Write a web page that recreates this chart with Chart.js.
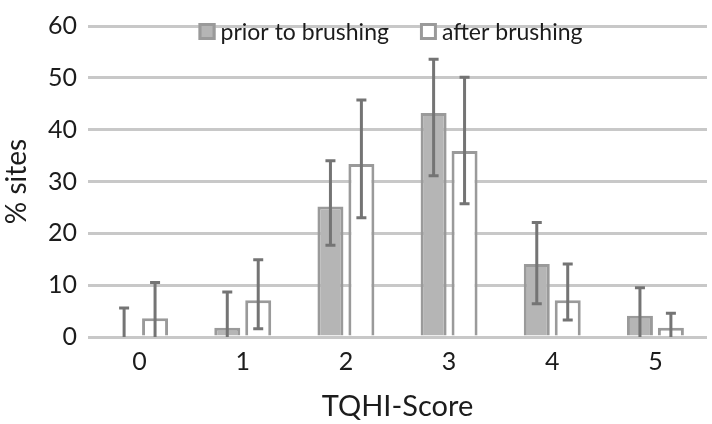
<!DOCTYPE html>
<html>
<head>
<meta charset="utf-8">
<script src="https://cdn.jsdelivr.net/npm/chart.js@4/dist/chart.umd.min.js"></script>
<style>
html,body{margin:0;padding:0;background:#fff;}
#wrap{width:712px;height:424px;position:relative;}
</style>
</head>
<body>
<div id="wrap"><canvas id="c" width="712" height="424"></canvas></div>
<script>
const categories = ['0', '1', '2', '3', '4', '5'];
const seriesNames = ['prior to brushing', 'after brushing'];
const priorValues = [0, 1.8, 25.2, 43.2, 14.1, 4.1];
const priorLower  = [0, 0, 17.7, 31.1, 6.4, 0];
const priorUpper  = [5.6, 8.7, 34.0, 53.6, 22.1, 9.5];
const afterValues = [3.6, 7.1, 33.4, 35.9, 7.1, 1.8];
const afterLower  = [0, 1.6, 23.0, 25.7, 3.3, 0];
const afterUpper  = [10.5, 14.9, 45.7, 50.1, 14.1, 4.6];
const yTicks = [0, 10, 20, 30, 40, 50, 60];

const FONT = 'Lato, "Open Sans", sans-serif';
const TEXT = '#1c1c1c';

const errorBars = {
  id: 'errorBars',
  afterDatasetsDraw(chart) {
    const ctx = chart.ctx;
    const ys = chart.scales.y;
    const bounds = [[priorLower, priorUpper], [afterLower, afterUpper]];
    ctx.save();
    ctx.strokeStyle = '#747474';
    ctx.lineWidth = 3;
    chart.data.datasets.forEach((ds, i) => {
      const meta = chart.getDatasetMeta(i);
      meta.data.forEach((bar, j) => {
        const x = bar.x;
        const yT = ys.getPixelForValue(bounds[i][1][j]);
        const yB = ys.getPixelForValue(bounds[i][0][j]);
        ctx.beginPath();
        ctx.moveTo(x, yT); ctx.lineTo(x, yB);
        ctx.moveTo(x - 5, yT); ctx.lineTo(x + 5, yT);
        if (bounds[i][0][j] > 0) { ctx.moveTo(x - 5, yB); ctx.lineTo(x + 5, yB); }
        ctx.stroke();
      });
    });
    ctx.restore();
  }
};

const legendPlugin = {
  id: 'customLegend',
  afterDraw(chart) {
    const ctx = chart.ctx;
    const ca = chart.chartArea;
    ctx.save();
    ctx.font = '23px ' + FONT;
    ctx.textBaseline = 'middle';
    ctx.fillStyle = TEXT;
    const cy = 31.5;
    const box = 17;
    const items = chart.data.datasets.map(d => ({label: d.label, fill: d.backgroundColor, stroke: d.borderColor}));
    const gap = 5, spacing = 31;
    let total = 0;
    items.forEach((it, k) => { total += box + gap + ctx.measureText(it.label).width + (k < items.length - 1 ? spacing : 0); });
    let x = (ca.left + ca.right) / 2 - 7 - total / 2;
    items.forEach(it => {
      ctx.fillStyle = it.fill;
      ctx.fillRect(x, cy - box / 2, box, box);
      ctx.strokeStyle = it.stroke;
      ctx.lineWidth = 3;
      ctx.strokeRect(x + 1.5, cy - box / 2 + 1.5, box - 3, box - 3);
      ctx.fillStyle = TEXT;
      ctx.fillText(it.label, x + box + gap, cy + 1);
      x += box + gap + ctx.measureText(it.label).width + spacing;
    });
    ctx.restore();
  }
};

new Chart(document.getElementById('c'), {
  type: 'bar',
  data: {
    labels: categories,
    datasets: [
      { label: seriesNames[0], data: priorValues, backgroundColor: '#b5b5b5', borderColor: '#9a9a9a', borderWidth: 3, categoryPercentage: 0.6, barPercentage: 0.84 },
      { label: seriesNames[1], data: afterValues, backgroundColor: '#ffffff', borderColor: '#9a9a9a', borderWidth: 3, categoryPercentage: 0.6, barPercentage: 0.84 }
    ]
  },
  options: {
    responsive: false,
    animation: false,
    devicePixelRatio: 1,
    layout: { padding: { top: 17, right: 5, left: 0, bottom: 0 } },
    plugins: { legend: { display: false }, tooltip: { enabled: false } },
    scales: {
      x: {
        grid: { display: false, drawTicks: false },
        border: { display: false },
        ticks: { color: TEXT, font: { family: FONT, size: 25 }, padding: 10 },
        title: { display: true, text: 'TQHI-Score', color: TEXT, font: { family: FONT, size: 29 }, padding: { top: 4, bottom: 0 } },
        afterFit(s) { s.height = 87; }
      },
      y: {
        min: 0, max: 60,
        afterBuildTicks(s) { s.ticks = yTicks.map(v => ({ value: v })); },
        grid: { color: '#c8c8c8', lineWidth: 3, drawTicks: false },
        border: { display: false },
        ticks: { color: TEXT, font: { family: FONT, size: 25 }, padding: 11 },
        title: { display: true, text: '% sites', color: TEXT, font: { family: FONT, size: 28 }, padding: 0 },
        afterFit(s) { s.width = 88; }
      }
    }
  },
  plugins: [errorBars, legendPlugin]
});
</script>
</body>
</html>
